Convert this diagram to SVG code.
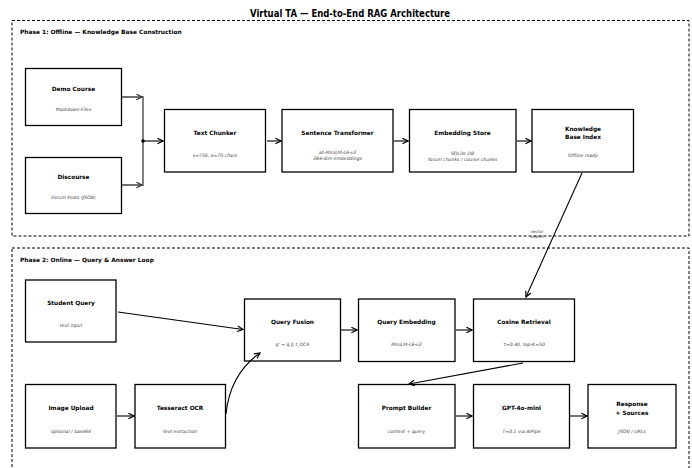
<svg xmlns="http://www.w3.org/2000/svg" width="692" height="468" viewBox="0 0 692 468">
<defs>
<marker id="ah" viewBox="0 0 10 10" refX="9" refY="5" markerWidth="7" markerHeight="7" markerUnits="userSpaceOnUse" orient="auto">
<path d="M1,1 L9,5 L1,9" fill="none" stroke="#000" stroke-width="1.6"/>
</marker>
<marker id="ahg" viewBox="0 0 10 10" refX="9" refY="5" markerWidth="7" markerHeight="7" markerUnits="userSpaceOnUse" orient="auto">
<path d="M1,1 L9,5 L1,9" fill="none" stroke="#333" stroke-width="1.6"/>
</marker>
</defs>
<style>
.phase{fill:none;stroke:#000;stroke-width:1;stroke-dasharray:3,2}
.box{fill:#fff;stroke:#000;stroke-width:1.3}
.t{font-family:"DejaVu Sans",sans-serif;font-weight:bold;font-size:5.8px;text-anchor:middle;fill:#000}
.s{font-family:"DejaVu Sans",sans-serif;font-style:italic;font-size:4.6px;text-anchor:middle;fill:#444}
.ph{font-family:"DejaVu Sans",sans-serif;font-weight:bold;font-size:5.9px;fill:#000}
.title{font-family:"DejaVu Sans",sans-serif;font-weight:bold;font-size:9.6px;text-anchor:middle;fill:#000}
.c{fill:none;stroke:#000;stroke-width:1.1;marker-end:url(#ah)}
.cg{fill:none;stroke:#444;stroke-width:1.5;marker-end:url(#ahg)}
.lbl{font-family:"DejaVu Sans",sans-serif;font-size:4px;text-anchor:middle;fill:#333}
</style>
<rect width="692" height="468" fill="#fff"/>
<text class="title" x="350" y="17" textLength="200" lengthAdjust="spacingAndGlyphs">Virtual TA — End-to-End RAG Architecture</text>

<g id="phase1">
<rect class="phase" x="12" y="20.5" width="677" height="215.5"/>
<text class="ph" x="20" y="34">Phase 1: Offline — Knowledge Base Construction</text>
</g>
<g id="phase2">
<rect class="phase" x="12" y="248" width="677" height="225"/>
<text class="ph" x="20" y="262">Phase 2: Online — Query &amp; Answer Loop</text>
</g>

<g id="demo-course">
<rect class="box" x="25.5" y="68.5" width="96" height="57"/>
<text class="t" x="73.5" y="91">Demo Course</text>
<text class="s" x="73.5" y="111">Markdown Files</text>
</g>
<g id="discourse">
<rect class="box" x="25.5" y="157.5" width="96" height="56"/>
<text class="t" x="73.5" y="179">Discourse</text>
<text class="s" x="73.5" y="199">Forum Posts (JSON)</text>
</g>
<g id="text-chunker">
<rect class="box" x="164.5" y="109.5" width="101" height="62.5"/>
<text class="t" x="215" y="135">Text Chunker</text>
<text class="s" x="215" y="157">s=750, o=70 chars</text>
</g>
<g id="sentence-transformer">
<rect class="box" x="282" y="109.5" width="111" height="62.5"/>
<text class="t" x="337.5" y="135">Sentence Transformer</text>
<text class="s" x="337.5" y="154">all-MiniLM-L6-v2</text>
<text class="s" x="337.5" y="160">384-dim embeddings</text>
</g>
<g id="embedding-store">
<rect class="box" x="409.5" y="109.5" width="106.5" height="62.5"/>
<text class="t" x="462.5" y="135">Embedding Store</text>
<text class="s" x="462.5" y="154.5">SQLite DB</text>
<text class="s" x="462.5" y="160.5">forum chunks / course chunks</text>
</g>
<g id="kb-index">
<rect class="box" x="532" y="109.5" width="101.5" height="62.5"/>
<text class="t" x="583" y="130.5">Knowledge</text>
<text class="t" x="583" y="139">Base Index</text>
<text class="s" x="583" y="157">Offline ready</text>
</g>

<g id="student-query">
<rect class="box" x="25.5" y="280" width="90.5" height="62"/>
<text class="t" x="71" y="305">Student Query</text>
<text class="s" x="71" y="327">text input</text>
</g>
<g id="image-upload">
<rect class="box" x="25.5" y="384.5" width="90.5" height="63.5"/>
<text class="t" x="71" y="409.5">Image Upload</text>
<text class="s" x="71" y="433">optional / base64</text>
</g>
<g id="tesseract-ocr">
<rect class="box" x="135" y="384.5" width="90.5" height="63.5"/>
<text class="t" x="180" y="409.5">Tesseract OCR</text>
<text class="s" x="180" y="433">text extraction</text>
</g>
<g id="query-fusion">
<rect class="box" x="244.5" y="299" width="96" height="62"/>
<text class="t" x="292.5" y="324">Query Fusion</text>
<text class="s" x="292.5" y="346">q' = q || t_OCR</text>
</g>
<g id="query-embedding">
<rect class="box" x="358.5" y="299" width="96.5" height="62.5"/>
<text class="t" x="406.5" y="324">Query Embedding</text>
<text class="s" x="406.5" y="346">MiniLM-L6-v2</text>
</g>
<g id="cosine-retrieval">
<rect class="box" x="473.5" y="299" width="101" height="62.5"/>
<text class="t" x="524" y="324">Cosine Retrieval</text>
<text class="s" x="524" y="346">τ=0.40, top-K=50</text>
</g>
<g id="prompt-builder">
<rect class="box" x="358.5" y="384.5" width="96.5" height="63.5"/>
<text class="t" x="406.5" y="410">Prompt Builder</text>
<text class="s" x="406.5" y="433">context + query</text>
</g>
<g id="gpt">
<rect class="box" x="473.5" y="384.5" width="96" height="63.5"/>
<text class="t" x="521.5" y="410">GPT-4o-mini</text>
<text class="s" x="521.5" y="433">T=0.1 via AIPipe</text>
</g>
<g id="response">
<rect class="box" x="588" y="384.5" width="88" height="63.5"/>
<text class="t" x="632" y="406">Response</text>
<text class="t" x="632" y="414.5">+ Sources</text>
<text class="s" x="632" y="433">JSON / URLs</text>
</g>

<g id="connectors">
<line class="cg" x1="122" y1="97" x2="142" y2="97"/>
<line class="cg" x1="122" y1="185" x2="142" y2="185"/>
<line x1="143" y1="96" x2="143" y2="186" stroke="#555" stroke-width="1.5"/>
<circle cx="143" cy="141" r="1.8" fill="#000"/>
<line class="c" x1="143" y1="141" x2="163" y2="141"/>
<line class="c" x1="267" y1="141" x2="281" y2="141"/>
<line class="c" x1="394" y1="141" x2="408" y2="141"/>
<line class="c" x1="517" y1="141" x2="531" y2="141"/>
<line class="c" x1="582" y1="173" x2="526" y2="297"/>
<text class="lbl" x="537" y="233">vector</text>
<text class="lbl" x="537" y="238">search</text>
<line class="c" x1="118" y1="312" x2="243" y2="329.5"/>
<line class="c" x1="117" y1="416" x2="134" y2="416"/>
<path class="c" d="M226,414 Q230,374 260,353"/>
<line class="c" x1="341" y1="330" x2="357" y2="330"/>
<line class="c" x1="456" y1="330" x2="472" y2="330"/>
<line class="c" x1="523" y1="363" x2="409" y2="384"/>
<line class="c" x1="456" y1="416" x2="472" y2="416"/>
<line class="c" x1="570" y1="416" x2="587" y2="416"/>
</g>
</svg>
